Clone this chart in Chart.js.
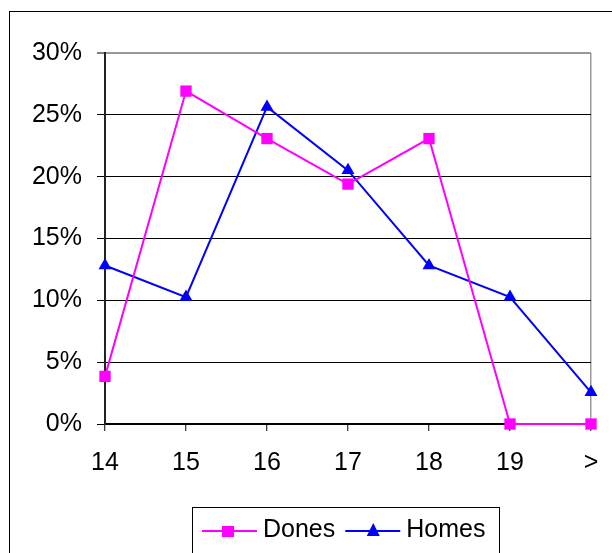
<!DOCTYPE html>
<html>
<head>
<meta charset="utf-8">
<script src="https://cdn.jsdelivr.net/npm/chart.js@4/dist/chart.umd.min.js"></script>
<style>
  html, body { margin: 0; padding: 0; background: #fff; }
  #wrap { width: 612px; height: 553px; }
</style>
</head>
<body>
<div id="wrap"><canvas id="chart" width="612" height="553"></canvas></div>
<script>
// categories (age) and share of each group, in percent
var ages = ['14', '15', '16', '17', '18', '19', '>'];
var dones = [3.85, 26.92, 23.08, 19.4, 23.08, 0, 0];
var homes = [12.82, 10.26, 25.64, 20.51, 12.82, 10.26, 2.56];
var yTicks = [0, 5, 10, 15, 20, 25, 30];

var FONT = '"Liberation Sans", Arial, sans-serif';

// outer frame round the whole chart (runs past the right and bottom edges)
var framePlugin = {
  id: 'frame',
  afterDraw: function (chart) {
    var ctx = chart.ctx;
    ctx.save();
    ctx.strokeStyle = '#000';
    ctx.lineWidth = 1;
    ctx.strokeRect(9.5, 11.5, 700, 600);
    ctx.restore();
  }
};

// legend drawn like the Excel one: line + marker, in a box
var legendPlugin = {
  id: 'boxLegend',
  afterDraw: function (chart) {
    var ctx = chart.ctx;
    var items = chart.data.datasets;
    ctx.save();
    ctx.strokeStyle = '#000';
    ctx.lineWidth = 1;
    ctx.strokeRect(192.5, 507.5, 307, 60);
    var x = 202, y = 531;
    ctx.font = '25px ' + FONT;
    ctx.textBaseline = 'alphabetic';
    items.forEach(function (ds) {
      ctx.strokeStyle = ds.borderColor;
      ctx.lineWidth = 2;
      ctx.beginPath();
      ctx.moveTo(x, y);
      ctx.lineTo(x + 55, y);
      ctx.stroke();
      ctx.fillStyle = ds.backgroundColor;
      if (ds.pointStyle === 'rect') {
        ctx.fillRect(x + 20, y - 5, 12, 11);
      } else {
        ctx.beginPath();
        ctx.moveTo(x + 28, y - 8);
        ctx.lineTo(x + 34.5, y + 5);
        ctx.lineTo(x + 21.5, y + 5);
        ctx.closePath();
        ctx.fill();
      }
      ctx.fillStyle = '#000';
      ctx.fillText(ds.label, x + 61, 537);
      x += 61 + ctx.measureText(ds.label).width + 10;
    });
    ctx.restore();
  }
};

new Chart(document.getElementById('chart'), {
  type: 'line',
  data: {
    labels: ages,
    datasets: [{
      label: 'Dones',
      data: dones,
      borderColor: '#FF00FF',
      backgroundColor: '#FF00FF',
      borderWidth: 2,
      pointStyle: 'rect',
      pointRadius: 8,
      pointBorderWidth: 0,
      tension: 0,
      clip: false
    }, {
      label: 'Homes',
      data: homes,
      borderColor: '#0000FF',
      backgroundColor: '#0000FF',
      borderWidth: 2,
      pointStyle: 'triangle',
      pointRadius: 7.5,
      pointBorderWidth: 0,
      tension: 0,
      clip: false
    }]
  },
  options: {
    responsive: false,
    animation: false,
    layout: { padding: { left: 0, top: 53, right: 21, bottom: 60 } },
    plugins: {
      legend: { display: false },
      tooltip: { enabled: false }
    },
    scales: {
      x: {
        offset: false,
        afterFit: function (scale) {
          scale.height = 69;
          scale.paddingLeft = 0;
          scale.paddingRight = 0;
        },
        border: { display: true, color: '#000', width: 1.5 },
        grid: {
          drawOnChartArea: true,
          color: function (c) { return c.index === ages.length - 1 ? '#999' : 'rgba(0,0,0,0)'; },
          lineWidth: 1.5,
          tickColor: '#000',
          tickLength: 7,
          tickWidth: 1
        },
        ticks: {
          color: '#000',
          font: { family: FONT, size: 25 },
          padding: 17,
          maxRotation: 0,
          autoSkip: false
        }
      },
      y: {
        min: 0,
        max: 30,
        afterFit: function (scale) { scale.width = 105; },
        afterBuildTicks: function (scale) {
          scale.ticks = yTicks.map(function (v) { return { value: v }; });
        },
        border: { display: true, color: '#222', width: 2 },
        grid: {
          color: function (c) { return c.tick && c.tick.value === 30 ? '#999' : '#000'; },
          lineWidth: function (c) { return c.tick && c.tick.value === 30 ? 2 : 1; },
          tickColor: '#000',
          tickLength: 8,
          tickWidth: 1
        },
        ticks: {
          color: '#000',
          font: { family: FONT, size: 25 },
          padding: 15,
          callback: function (v) { return v + '%'; }
        }
      }
    }
  },
  plugins: [framePlugin, legendPlugin]
});
</script>
</body>
</html>
